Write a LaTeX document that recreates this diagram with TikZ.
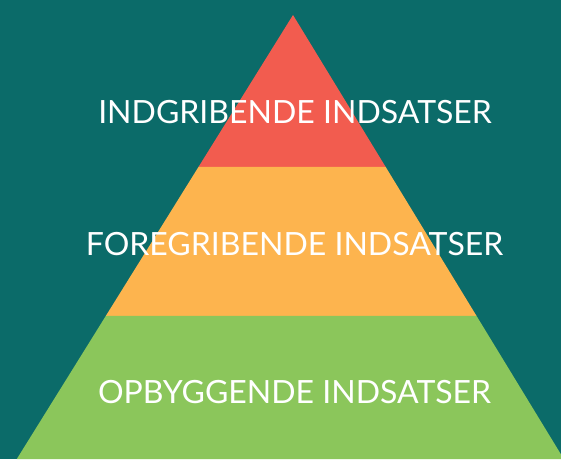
\documentclass[tikz,border=0pt]{standalone}
\usepackage{fontspec}
\setmainfont{Lato}
\usetikzlibrary{calc}

\definecolor{bgteal}{HTML}{0B6B69}
\definecolor{tiptop}{HTML}{F25C4F}
\definecolor{midband}{HTML}{FDB44E}
\definecolor{baseband}{HTML}{8BC65B}

\begin{document}
\begin{tikzpicture}[x=1pt,y=-1pt,
    band/.style={draw=none},
    tier/.style={text=white, inner sep=0pt, font=\fontsize{32}{38}\selectfont}]
  % Background
  \useasboundingbox (0,0) rectangle (561,459);
  \clip (0,0) rectangle (561,459);
  \fill[bgteal] (0,0) rectangle (561,459);

  % Corners
  \coordinate (top) at (293,15);
  \coordinate (bl) at (16.8,459);
  \coordinate (br) at (563.8,459);
  \coordinate (ul) at ($(top)!0.3423!(bl)$);
  \coordinate (ur) at ($(top)!0.3423!(br)$);
  \coordinate (ll) at ($(top)!0.6779!(bl)$);
  \coordinate (lr) at ($(top)!0.6779!(br)$);

  % Bands
  \fill[band, tiptop] (top) -- (ur) -- (ul) -- cycle;
  \fill[band, midband] (ul) -- (ur) -- (lr) -- (ll) -- cycle;
  \fill[band, baseband] (ll) -- (lr) -- (br) -- (bl) -- cycle;

  % Labels
  \node[tier] (indgrib) at (295,112) {INDGRIBENDE INDSATSER};
  \node[tier] (foregrib) at (294.5,244) {FOREGRIBENDE INDSATSER};
  \node[tier] (opbyg) at (294.5,392) {OPBYGGENDE INDSATSER};
\end{tikzpicture}
\end{document}
